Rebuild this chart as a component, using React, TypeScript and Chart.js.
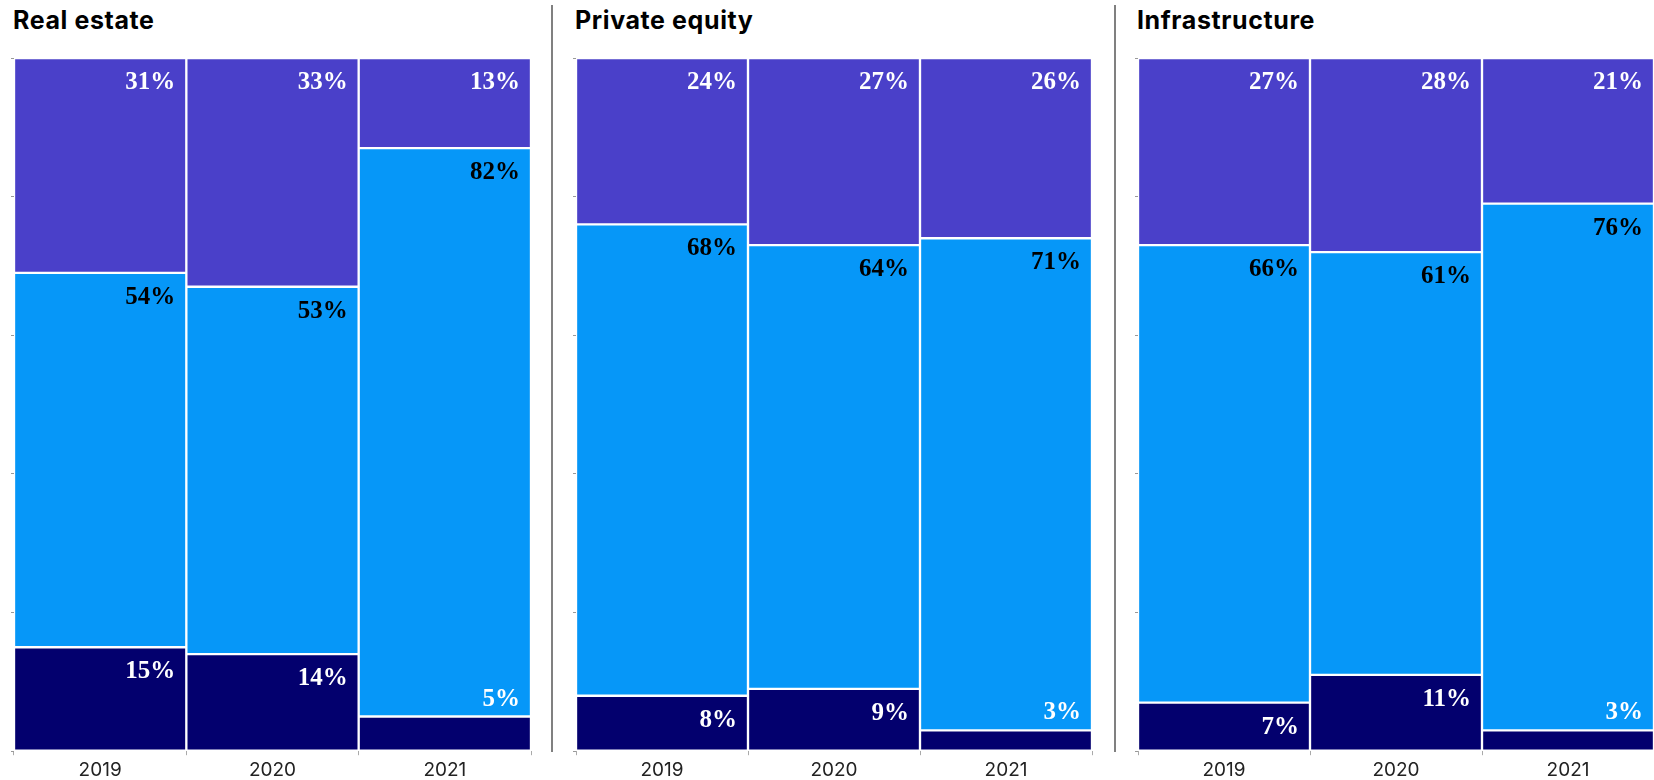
import React, { useEffect, useRef } from "react";
import { Chart, registerables } from "chart.js";

Chart.register(...registerables);

// ---- Data ----
const panelTitles = ["Real estate", "Private equity", "Infrastructure"];
const years = ["2019", "2020", "2021"];
const seriesNames = ["Bottom", "Middle", "Top"];

const realEstateBottom = [15, 14, 5];
const realEstateMiddle = [54, 53, 82];
const realEstateTop = [31, 33, 13];

const privateEquityBottom = [8, 9, 3];
const privateEquityMiddle = [68, 64, 71];
const privateEquityTop = [24, 27, 26];

const infrastructureBottom = [7, 11, 3];
const infrastructureMiddle = [66, 61, 76];
const infrastructureTop = [27, 28, 21];

const yTickValues = [0, 20, 40, 60, 80, 100];

// ---- Styles ----
const seriesColors = ["#03006e", "#0697f8", "#4a40c9"];
const labelColors = ["#ffffff", "#000000", "#ffffff"];

const panels = [
  { title: panelTitles[0], series: [realEstateBottom, realEstateMiddle, realEstateTop], left: 0, padRight: 14 },
  { title: panelTitles[1], series: [privateEquityBottom, privateEquityMiddle, privateEquityTop], left: 562, padRight: 15 },
  { title: panelTitles[2], series: [infrastructureBottom, infrastructureMiddle, infrastructureTop], left: 1124, padRight: 15 },
];

const separators = [551, 1114];

const CANVAS_W = 545;
const CANVAS_H = 794;

const segLabelPlugin = {
  id: "segLabels",
  afterDatasetsDraw(chart: any) {
    const ctx = chart.ctx;
    ctx.save();
    ctx.font = "bold 25px 'Liberation Serif', serif";
    ctx.textAlign = "right";
    ctx.textBaseline = "alphabetic";
    chart.data.datasets.forEach((ds: any, di: number) => {
      const meta = chart.getDatasetMeta(di);
      meta.data.forEach((el: any, i: number) => {
        const v = ds.data[i];
        const p = el.getProps(["x", "y", "base", "width"], true);
        const top = Math.min(p.y, p.base);
        const small = v < 6;
        ctx.fillStyle = small ? "#ffffff" : ds.labelColor;
        ctx.fillText(v + "%", p.x + p.width / 2 - 11, small ? top - 11 : top + 31);
      });
    });
    ctx.restore();
  },
};

function Panel({ title, series, left, padRight }: any) {
  const ref = useRef<HTMLCanvasElement | null>(null);
  useEffect(() => {
    if (!ref.current) return;
    const chart = new Chart(ref.current, {
      type: "bar",
      data: {
        labels: years,
        datasets: series.map((d: number[], i: number) => ({
          label: seriesNames[i],
          data: d,
          backgroundColor: seriesColors[i],
          borderColor: "#ffffff",
          borderWidth: 1.5,
          borderSkipped: false,
          barPercentage: 1,
          categoryPercentage: 1,
          labelColor: labelColors[i],
        })),
      },
      options: {
        animation: false,
        responsive: true,
        maintainAspectRatio: false,
        layout: { padding: { left: 11, right: padRight, top: 58, bottom: 8 } },
        plugins: { legend: { display: false }, tooltip: { enabled: false }, title: { display: false } },
        scales: {
          x: {
            stacked: true,
            grid: { drawOnChartArea: false, drawTicks: true, tickLength: 4, color: "#aaaaaa" },
            border: { display: false },
            ticks: { padding: 4, color: "#222222", font: { family: "Inter", size: 19, lineHeight: 1.2 } },
          },
          y: {
            stacked: true,
            min: 0,
            max: 100,
            afterBuildTicks: (axis: any) => {
              axis.ticks = yTickValues.map((v) => ({ value: v }));
            },
            grid: { drawOnChartArea: false, drawTicks: true, tickLength: 3, color: "#999999" },
            border: { display: false },
            ticks: { display: false },
          },
        },
      } as any,
      plugins: [segLabelPlugin],
    });
    return () => chart.destroy();
  }, []);
  return (
    <>
      <div
        style={{
          position: "absolute",
          left: left + 13,
          top: 8,
          fontFamily: "Inter, sans-serif",
          fontWeight: 700,
          fontSize: 25,
          letterSpacing: "0.6px",
          lineHeight: "25px",
          color: "#000",
          whiteSpace: "nowrap",
        }}
      >
        {title}
      </div>
      <div style={{ position: "absolute", left, top: 0, width: CANVAS_W, height: CANVAS_H }}>
        <canvas ref={ref} />
      </div>
    </>
  );
}

export default function App() {
  return (
    <div
      style={{
        position: "absolute",
        left: 0,
        top: 0,
        width: 1654,
        height: 780,
        overflow: "hidden",
        background: "#ffffff",
      }}
    >
      {separators.map((x, i) => (
        <div
          key={i}
          style={{ position: "absolute", left: x, top: 5, width: 2, height: 747, background: "#808080" }}
        />
      ))}
      {panels.map((p, i) => (
        <Panel key={i} {...p} />
      ))}
    </div>
  );
}
